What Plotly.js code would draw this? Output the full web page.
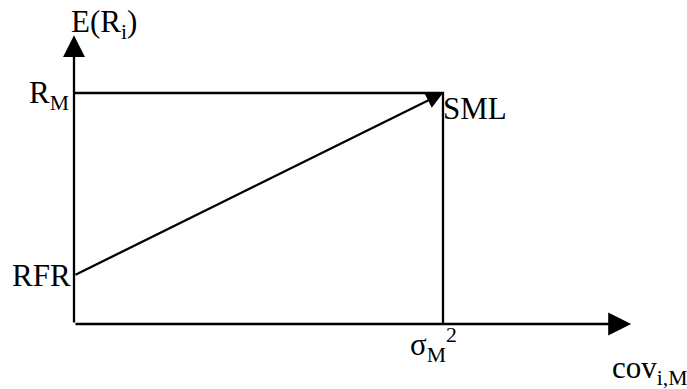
<!DOCTYPE html>
<html>
<head>
<meta charset="utf-8">
<script src="https://cdn.plot.ly/plotly-3.0.1.min.js"></script>
<style>
  html, body { margin: 0; padding: 0; background: #fff; }
  #chart { width: 687px; height: 389px; }
</style>
</head>
<body>
<div id="chart"></div>
<script>
// model values (market variance = 1, market return = 1)
var rfr = 0.21;
var marketReturn = 1;
var marketVar = 1;
var axisEnd = [1.51, 1.25]; // x axis end, y axis end

var boxX = [0, marketVar, marketVar];
var boxY = [marketReturn, marketReturn, 0];

var txt = { family: "Liberation Serif, Times New Roman, serif", size: 31, color: "#000" };

var box = {
  x: boxX,
  y: boxY,
  mode: "lines",
  line: { color: "#000", width: 2.3 },
  hoverinfo: "skip"
};

function arrow(x0, y0, x1, y1, size) {
  return {
    x: x1, y: y1, ax: x0, ay: y0,
    xref: "x", yref: "y", axref: "x", ayref: "y",
    text: "", showarrow: true,
    arrowhead: 2, arrowsize: size, arrowwidth: 2.3, arrowcolor: "#000",
    standoff: 0, startstandoff: 0
  };
}

var annotations = [
  arrow(0, 0, 0, axisEnd[1], 1.9),
  arrow(0, 0, axisEnd[0], 0, 2),
  arrow(0, rfr, marketVar, marketReturn, 1.45),
  { x: 0, y: 1.3, xref: "x", yref: "y", text: "E(R<sub>i</sub>)", showarrow: false,
    xanchor: "left", yanchor: "middle", xshift: -5, font: txt },
  { x: 0, y: marketReturn, xref: "x", yref: "y", text: "R<sub>M</sub>", showarrow: false,
    xanchor: "right", yanchor: "middle", xshift: -3, yshift: -2, font: txt },
  { x: 0, y: rfr, xref: "x", yref: "y", text: "RFR", showarrow: false,
    xanchor: "right", yanchor: "middle", xshift: -1, font: txt },
  { x: marketVar, y: marketReturn, xref: "x", yref: "y", text: "SML", showarrow: false,
    xanchor: "left", yanchor: "top", xshift: -2, yshift: 4, font: txt },
  { x: marketVar, y: 0, xref: "x", yref: "y", text: "σ<sub>M</sub><sup>2</sup>", showarrow: false,
    xanchor: "center", yanchor: "top", xshift: -10, yshift: 3, font: txt },
  { x: 1, y: 0, xref: "paper", yref: "paper", text: "cov<sub>i,M</sub>", showarrow: false,
    xanchor: "right", yanchor: "bottom", xshift: 3, yshift: -3, font: txt }
];

var layout = {
  width: 687,
  height: 389,
  margin: { l: 0, r: 0, t: 0, b: 0 },
  paper_bgcolor: "#fff",
  plot_bgcolor: "#fff",
  showlegend: false,
  xaxis: { range: [-74 / 369, 613 / 369], visible: false, fixedrange: true },
  yaxis: { range: [-65 / 231, 324 / 231], visible: false, fixedrange: true },
  annotations: annotations
};

Plotly.newPlot("chart", [box], layout, { staticPlot: true });
</script>
</body>
</html>
